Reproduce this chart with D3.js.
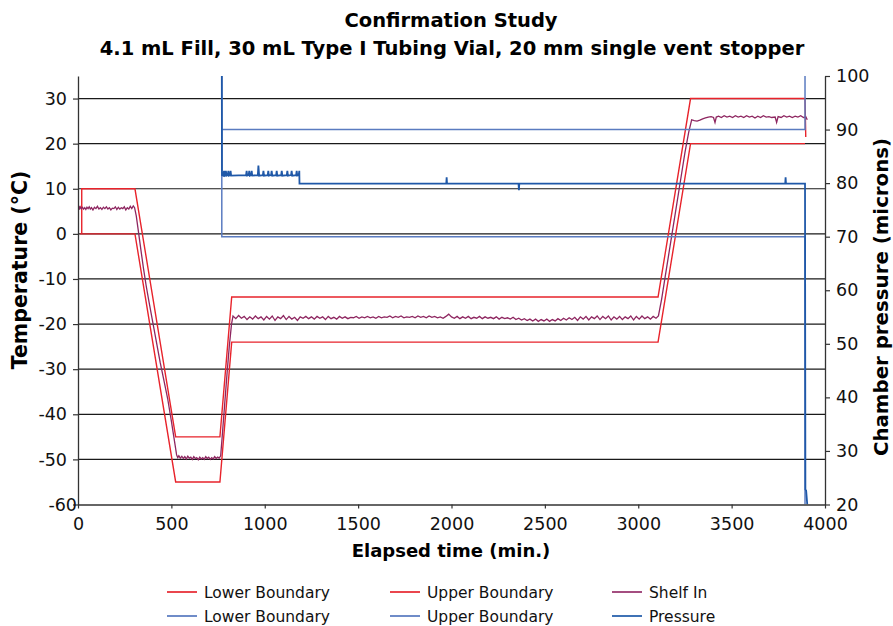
<!DOCTYPE html>
<html>
<head>
<meta charset="utf-8">
<script src="https://cdn.jsdelivr.net/npm/d3@7"></script>
<style>
  body { margin: 0; background: #fff; }
  svg { font-family: "DejaVu Sans", sans-serif; }
</style>
</head>
<body>
<div class="chart"></div>
<script>

// ---- data ----
var timeTicks = [0, 500, 1000, 1500, 2000, 2500, 3000, 3500, 4000];
var tempTicks = [-60, -50, -40, -30, -20, -10, 0, 10, 20, 30];
var pressTicks = [20, 30, 40, 50, 60, 70, 80, 90, 100];

// temperature boundaries [min, degC]
var lowerTemp = [[10, 0], [305, 0], [523, -55], [760, -55], [823, -24], [3106, -24], [3280, 20], [3893, 20]];
var upperTemp = [[20, 0], [20, 10], [305, 10], [523, -45], [760, -45], [823, -14], [3106, -14], [3280, 30], [3893, 30], [3897, 21.5]];

// shelf inlet temperature [min, degC]
var shelfLoad = [[0, 5.0], [4, 6.2], [8, 5.4], [12, 6.0], [18, 5.6], [24, 5.9], [30, 5.5], [36, 5.8], [42, 5.4], [48, 5.9],
  [54, 5.6], [60, 6.0], [66, 5.5], [72, 5.8], [80, 5.3], [88, 5.9], [96, 5.6], [104, 6.1], [112, 5.5], [120, 5.8],
  [128, 5.4], [136, 5.9], [144, 5.6], [152, 6.0], [160, 5.5], [168, 5.8], [176, 5.3], [184, 5.7], [192, 5.6], [200, 6.0],
  [208, 5.4], [216, 5.9], [224, 5.5], [232, 5.8], [240, 5.6], [248, 6.0], [256, 5.3], [264, 5.8], [272, 5.5], [280, 6.1],
  [288, 5.6], [296, 6.2], [303, 5.8]];
var shelfFreeze = [[312, 4.0], [322, 1.0], [335, -3.0], [350, -7.5], [365, -11.5], [380, -15.0], [400, -19.5], [420, -24.0],
  [440, -28.5], [460, -32.5], [480, -36.5], [500, -41.5], [515, -45.5], [528, -49.0],
  [534, -49.6], [540, -49.2], [548, -49.7], [556, -49.3], [564, -49.8], [572, -49.4], [580, -49.9], [588, -49.3],
  [596, -49.7], [604, -49.5], [612, -50.0], [620, -49.4], [628, -49.8], [636, -49.6], [644, -50.1], [652, -49.5],
  [660, -49.9], [668, -49.6], [676, -50.0], [684, -49.4], [692, -49.8], [700, -49.5], [708, -50.0], [716, -49.6],
  [724, -49.9], [732, -49.4], [740, -49.8], [748, -49.5], [756, -49.7], [764, -49.2],
  [772, -45.0], [785, -38.0], [798, -31.0], [810, -25.0], [822, -20.0], [830, -18.2]];
var shelfPrimary = [[845, -18.8], [860, -18.1], [875, -18.7], [890, -18.3], [905, -19.0], [920, -18.4], [935, -18.9], [950, -18.2],
  [965, -18.8], [980, -18.4], [995, -19.1], [1010, -18.3], [1025, -18.9], [1040, -18.2], [1055, -19.2], [1070, -18.4],
  [1085, -18.8], [1100, -18.1], [1115, -19.0], [1130, -18.3], [1145, -18.9], [1160, -18.5], [1175, -19.2], [1190, -18.4],
  [1205, -18.7], [1220, -18.3], [1235, -18.8], [1250, -18.4], [1265, -18.9], [1280, -18.3], [1295, -18.7], [1310, -18.4],
  [1325, -19.0], [1340, -18.3], [1355, -18.8], [1370, -18.5], [1385, -18.9], [1400, -18.3], [1415, -18.7], [1430, -18.4],
  [1445, -18.8], [1460, -18.5], [1475, -18.6], [1490, -18.3], [1505, -18.7], [1520, -18.4], [1535, -18.6], [1550, -18.3],
  [1565, -18.6], [1580, -18.4], [1595, -18.7], [1610, -18.3], [1625, -18.6], [1640, -18.4], [1655, -18.5], [1670, -18.2],
  [1685, -18.6], [1700, -18.3], [1715, -18.5], [1730, -18.2], [1745, -18.6], [1760, -18.4], [1775, -18.5], [1790, -18.3],
  [1805, -18.6], [1820, -18.2], [1835, -18.5], [1850, -18.3], [1865, -18.6], [1880, -18.2], [1895, -18.5], [1910, -18.3],
  [1925, -18.6], [1940, -18.4], [1955, -18.7], [1970, -18.3], [1985, -17.8], [2000, -18.4], [2015, -18.7], [2030, -18.3],
  [2045, -18.8], [2060, -18.4], [2075, -18.7], [2090, -18.3], [2105, -18.8], [2120, -18.5], [2135, -18.7], [2150, -18.3],
  [2165, -18.8], [2180, -18.4], [2195, -18.7], [2210, -18.5], [2225, -18.8], [2240, -18.4], [2255, -18.9], [2270, -18.5],
  [2285, -18.8], [2300, -18.6], [2315, -18.9], [2330, -18.5], [2345, -19.0], [2360, -18.7], [2375, -19.1], [2390, -18.8],
  [2405, -19.2], [2420, -18.9], [2435, -19.3], [2450, -18.9], [2465, -19.4], [2480, -19.0], [2495, -19.3], [2510, -18.9],
  [2525, -19.4], [2540, -19.0], [2555, -19.3], [2570, -18.8], [2585, -19.2], [2600, -18.7], [2615, -19.1], [2630, -18.6],
  [2645, -19.0], [2660, -18.5], [2675, -19.2], [2690, -18.4], [2705, -18.9], [2720, -18.3], [2735, -19.1], [2750, -18.4],
  [2765, -18.8], [2780, -18.2], [2795, -19.0], [2810, -18.3], [2825, -18.8], [2840, -18.2], [2855, -19.1], [2870, -18.4],
  [2885, -18.9], [2900, -18.3], [2915, -19.0], [2930, -18.4], [2945, -18.8], [2960, -18.2], [2975, -19.1], [2990, -18.3],
  [3005, -18.9], [3020, -18.2], [3035, -18.8], [3050, -18.4], [3065, -18.9], [3080, -18.3], [3095, -18.7], [3108, -18.2]];
var shelfSecondary = [[3125, -14.5], [3150, -8.0], [3175, -1.5], [3200, 5.0], [3225, 11.5], [3250, 18.0], [3270, 22.5], [3286, 25.3],
  [3300, 25.1], [3315, 25.0], [3330, 25.2], [3345, 25.5], [3360, 25.7], [3375, 25.9], [3390, 26.0], [3403, 25.8],
  [3411, 24.7], [3418, 25.9], [3430, 26.1], [3445, 25.8], [3460, 26.2], [3475, 25.9], [3490, 26.1], [3505, 25.8],
  [3520, 26.2], [3535, 25.9], [3550, 26.1], [3565, 25.8], [3580, 26.2], [3595, 25.9], [3610, 26.1], [3625, 25.7],
  [3640, 26.1], [3655, 25.8], [3670, 26.2], [3685, 25.9], [3700, 26.0], [3715, 25.8], [3733, 25.9], [3741, 24.7],
  [3749, 26.0], [3765, 25.8], [3780, 26.2], [3795, 25.9], [3810, 26.1], [3825, 25.8], [3840, 26.1], [3855, 25.9],
  [3870, 26.2], [3885, 25.8], [3898, 25.9], [3905, 25.3]];
var shelfIn = shelfLoad.concat(shelfFreeze, shelfPrimary, shelfSecondary);

// pressure boundaries and chamber pressure [min, microns]
var lowerPress = [[770, 90], [770, 70], [3893, 70], [3893, 20]];
var upperPress = [[770, 100], [770, 90], [3893, 90], [3893, 100]];
var pressure = [[770, 101], [771, 81.5], [778, 81.4], [782, 82.3], [786, 81.4], [790, 81.5], [792, 82.3], [795, 81.4],
  [802, 81.5], [805, 82.3], [808, 81.4], [814, 81.5], [817, 82.3], [820, 81.4], [900, 81.5], [903, 82.3], [906, 81.4],
  [914, 81.5], [917, 82.3], [920, 81.4], [927, 81.5], [930, 82.3], [933, 81.4], [963, 81.5], [966, 83.3], [970, 81.4],
  [990, 81.5], [993, 82.3], [996, 81.4], [1016, 81.5], [1019, 82.3], [1022, 81.4], [1034, 81.5], [1037, 82.3], [1040, 81.4],
  [1061, 81.5], [1064, 82.3], [1067, 81.4], [1088, 81.5], [1091, 82.3], [1094, 81.4], [1118, 81.5], [1121, 82.3],
  [1124, 81.4], [1141, 81.5], [1144, 82.3], [1147, 81.4], [1168, 81.5], [1171, 82.3], [1174, 81.4], [1182, 81.5],
  [1185, 82.3], [1186, 79.9], [1972, 79.9], [1974, 81.1], [1976, 79.9], [2359, 79.9], [2361, 78.7], [2363, 79.9],
  [3787, 79.9], [3789, 81.1], [3791, 79.9], [3893, 79.9], [3895, 22.8], [3899, 22.6], [3905, 20]];

var legendRows = [
  [{ name: "Lower Boundary", color: "#e8323a" }, { name: "Upper Boundary", color: "#e8323a" }, { name: "Shelf In", color: "#9a3a72" }],
  [{ name: "Lower Boundary", color: "#5f7fc2" }, { name: "Upper Boundary", color: "#5f7fc2" }, { name: "Pressure", color: "#2a62ad" }]
];

var width = 893, height = 626;
var plotLeft = 78, plotRight = 825, plotTop = 76, plotBottom = 504.5;

var svg = d3.select(".chart")
    .append("svg")
    .attr("width", width)
    .attr("height", height);

var x = d3.scaleLinear().domain([0, 4000]).range([plotLeft, plotRight]);
var yT = d3.scaleLinear().domain([-60, 35]).range([plotBottom, plotTop]);
var yP = d3.scaleLinear().domain([20, 100]).range([plotBottom, plotTop]);

svg.append("defs").append("clipPath")
    .attr("id", "plot")
    .append("rect")
    .attr("x", plotLeft).attr("y", plotTop)
    .attr("width", plotRight - plotLeft).attr("height", plotBottom - plotTop);

// gridlines at the temperature ticks
svg.append("g")
    .selectAll("line")
    .data(tempTicks.filter(function (d) { return d > -60; }))
    .enter().append("line")
    .attr("x1", plotLeft).attr("x2", plotRight)
    .attr("y1", function (d) { return yT(d); })
    .attr("y2", function (d) { return yT(d); })
    .attr("stroke", "#1a1a1a")
    .attr("stroke-width", 1.2);

var lineT = d3.line()
    .x(function (d) { return x(d[0]); })
    .y(function (d) { return yT(d[1]); });
var lineP = d3.line()
    .x(function (d) { return x(d[0]); })
    .y(function (d) { return yP(d[1]); });

var plot = svg.append("g").attr("clip-path", "url(#plot)");

plot.append("path").datum(lowerTemp).attr("d", lineT)
    .attr("fill", "none").attr("stroke", "#e8232b").attr("stroke-width", 1.4);
plot.append("path").datum(upperTemp).attr("d", lineT)
    .attr("fill", "none").attr("stroke", "#e8232b").attr("stroke-width", 1.4);
plot.append("path").datum(shelfIn).attr("d", lineT)
    .attr("fill", "none").attr("stroke", "#8e2660").attr("stroke-width", 1.3);
plot.append("path").datum(lowerPress).attr("d", lineP)
    .attr("fill", "none").attr("stroke", "#5a7bc0").attr("stroke-width", 1.5);
plot.append("path").datum(upperPress).attr("d", lineP)
    .attr("fill", "none").attr("stroke", "#5a7bc0").attr("stroke-width", 1.5);
plot.append("path").datum(pressure).attr("d", lineP)
    .attr("fill", "none").attr("stroke", "#1f58a8").attr("stroke-width", 1.8);

// axes
function styleAxis(g) {
    g.attr("font-family", null).attr("font-size", null);
    g.selectAll("text").style("font-size", "17.5px").attr("fill", "#111");
    g.selectAll("line").attr("stroke", "#333").attr("stroke-width", 1.2);
    g.select(".domain").attr("stroke", "#333").attr("stroke-width", 1.3);
}
var plain = function (d) { return String(d); };   // keeps the plain hyphen minus

svg.append("g")
    .attr("transform", "translate(0," + plotBottom + ")")
    .call(d3.axisBottom(x).tickValues(timeTicks).tickFormat(plain)
        .tickSize(4).tickPadding(9).tickSizeOuter(0))
    .call(styleAxis);

var leftAxis = svg.append("g")
    .attr("transform", "translate(" + plotLeft + ",0)")
    .call(d3.axisLeft(yT).tickValues(tempTicks).tickFormat(plain)
        .tickSize(5).tickPadding(6).tickSizeOuter(0))
    .call(styleAxis);
leftAxis.selectAll(".tick")
    .filter(function (d) { return d === -60; })
    .select("text").attr("x", -1);

svg.append("g")
    .attr("transform", "translate(" + plotRight + ",0)")
    .call(d3.axisRight(yP).tickValues(pressTicks).tickFormat(plain)
        .tickSize(5).tickPadding(6).tickSizeOuter(0))
    .call(styleAxis);

// titles
svg.append("text")
    .attr("x", 451).attr("y", 27)
    .attr("text-anchor", "middle")
    .style("font-size", "19.5px").style("font-weight", "bold")
    .text("Confirmation Study");
svg.append("text")
    .attr("x", 452).attr("y", 55)
    .attr("text-anchor", "middle")
    .style("font-size", "19.5px").style("font-weight", "bold")
    .text("4.1 mL Fill, 30 mL Type I Tubing Vial, 20 mm single vent stopper");

svg.append("text")
    .attr("x", 451).attr("y", 557)
    .attr("text-anchor", "middle")
    .style("font-size", "18px").style("font-weight", "bold")
    .text("Elapsed time (min.)");

svg.append("text")
    .attr("transform", "translate(27,270) rotate(-90)")
    .attr("text-anchor", "middle")
    .style("font-size", "20.5px").style("font-weight", "bold")
    .text("Temperature (°C)");

svg.append("text")
    .attr("transform", "translate(888,297) rotate(-90)")
    .attr("text-anchor", "middle")
    .style("font-size", "19.8px").style("font-weight", "bold")
    .text("Chamber pressure (microns)");

// legend
var colX = [167, 390, 612];
var rowY = [592, 616];
legendRows.forEach(function (row, r) {
    row.forEach(function (item, c) {
        var g = svg.append("g").attr("transform", "translate(" + colX[c] + "," + rowY[r] + ")");
        g.append("line")
            .attr("x1", 0).attr("x2", 30)
            .attr("stroke", item.color).attr("stroke-width", 1.8);
        g.append("text")
            .attr("x", 37).attr("y", 6)
            .style("font-size", "15.5px").attr("fill", "#111")
            .text(item.name);
    });
});
</script>
</body>
</html>
